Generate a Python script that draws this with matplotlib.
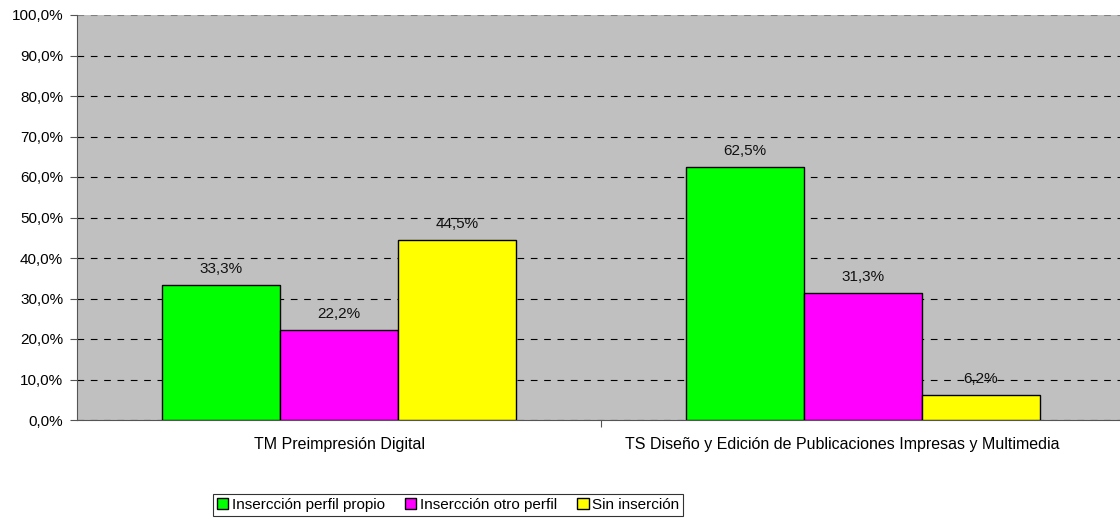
import matplotlib.pyplot as plt
import numpy as np

plt.rcParams['font.family'] = ['Liberation Sans', 'DejaVu Sans']

# Data
categories = ["TM Preimpresión Digital",
              "TS Diseño y Edición de Publicaciones Impresas y Multimedia"]
perfil_propio = [33.3, 62.5]
otro_perfil = [22.2, 31.3]
sin_insercion = [44.5, 6.2]
legend_labels = ["Insercción perfil propio", "Insercción otro perfil", "Sin inserción"]
colors = ['#00FF00', '#FF00FF', '#FFFF00']

fig = plt.figure(figsize=(11.2, 5.24), dpi=100)
ax = fig.add_axes([77/1120, 1 - 420/524, 1048/1120, 405/524])
ax.set_facecolor('#C0C0C0')

x = np.arange(len(categories))
w = 0.225
series = [perfil_propio, otro_perfil, sin_insercion]
handles = []
for i, (vals, col, lab) in enumerate(zip(series, colors, legend_labels)):
    pos = x + (i - 1) * w
    b = ax.bar(pos, vals, width=w, color=col, edgecolor='black', linewidth=1.0,
               label=lab, zorder=3)
    handles.append(b)
    for px, v in zip(pos, vals):
        ax.text(px, v + 2.2, f"{v:.1f}%".replace('.', ','), ha='center', va='bottom',
                fontsize=11, color='#111111', zorder=4)

ax.set_xlim(-0.5, 1.5)
ax.set_ylim(0, 100)
ticks = np.arange(0, 101, 10)
ax.set_yticks(ticks)
ax.set_yticklabels([f"{t:.1f}%".replace('.', ',') for t in ticks])
ax.yaxis.grid(True, linestyle=(0, (6, 6)), color='black', linewidth=0.8, zorder=0)
ax.get_ygridlines()[-1].set_color('#808080')
ax.set_xticks([0.5])
ax.set_xticklabels([])
ax.tick_params(axis='x', length=5, color='#555555')
ax.tick_params(axis='y', length=5, color='#555555', labelsize=11, pad=5)

# category labels (the second one sits a bit left, as in the source chart)
label_x = [0, 0.96]
for lx, c in zip(label_x, categories):
    ax.text(lx, -4.2, c, ha='center', va='top', fontsize=11.5)

for s in ['top', 'right']:
    ax.spines[s].set_visible(False)
ax.spines['left'].set_color('#555555')
ax.spines['bottom'].set_color('#555555')

leg = fig.legend(handles=handles, loc='upper left', bbox_to_anchor=(213/1120, 1 - 494/524),
                 ncol=3, frameon=True, fancybox=False, edgecolor='black',
                 fontsize=11, handlelength=0.75, handleheight=0.75,
                 handletextpad=0.25, columnspacing=1.3, borderpad=0.25,
                 borderaxespad=0)
leg.get_frame().set_linewidth(0.8)

fig.savefig('out.png', dpi=100)
